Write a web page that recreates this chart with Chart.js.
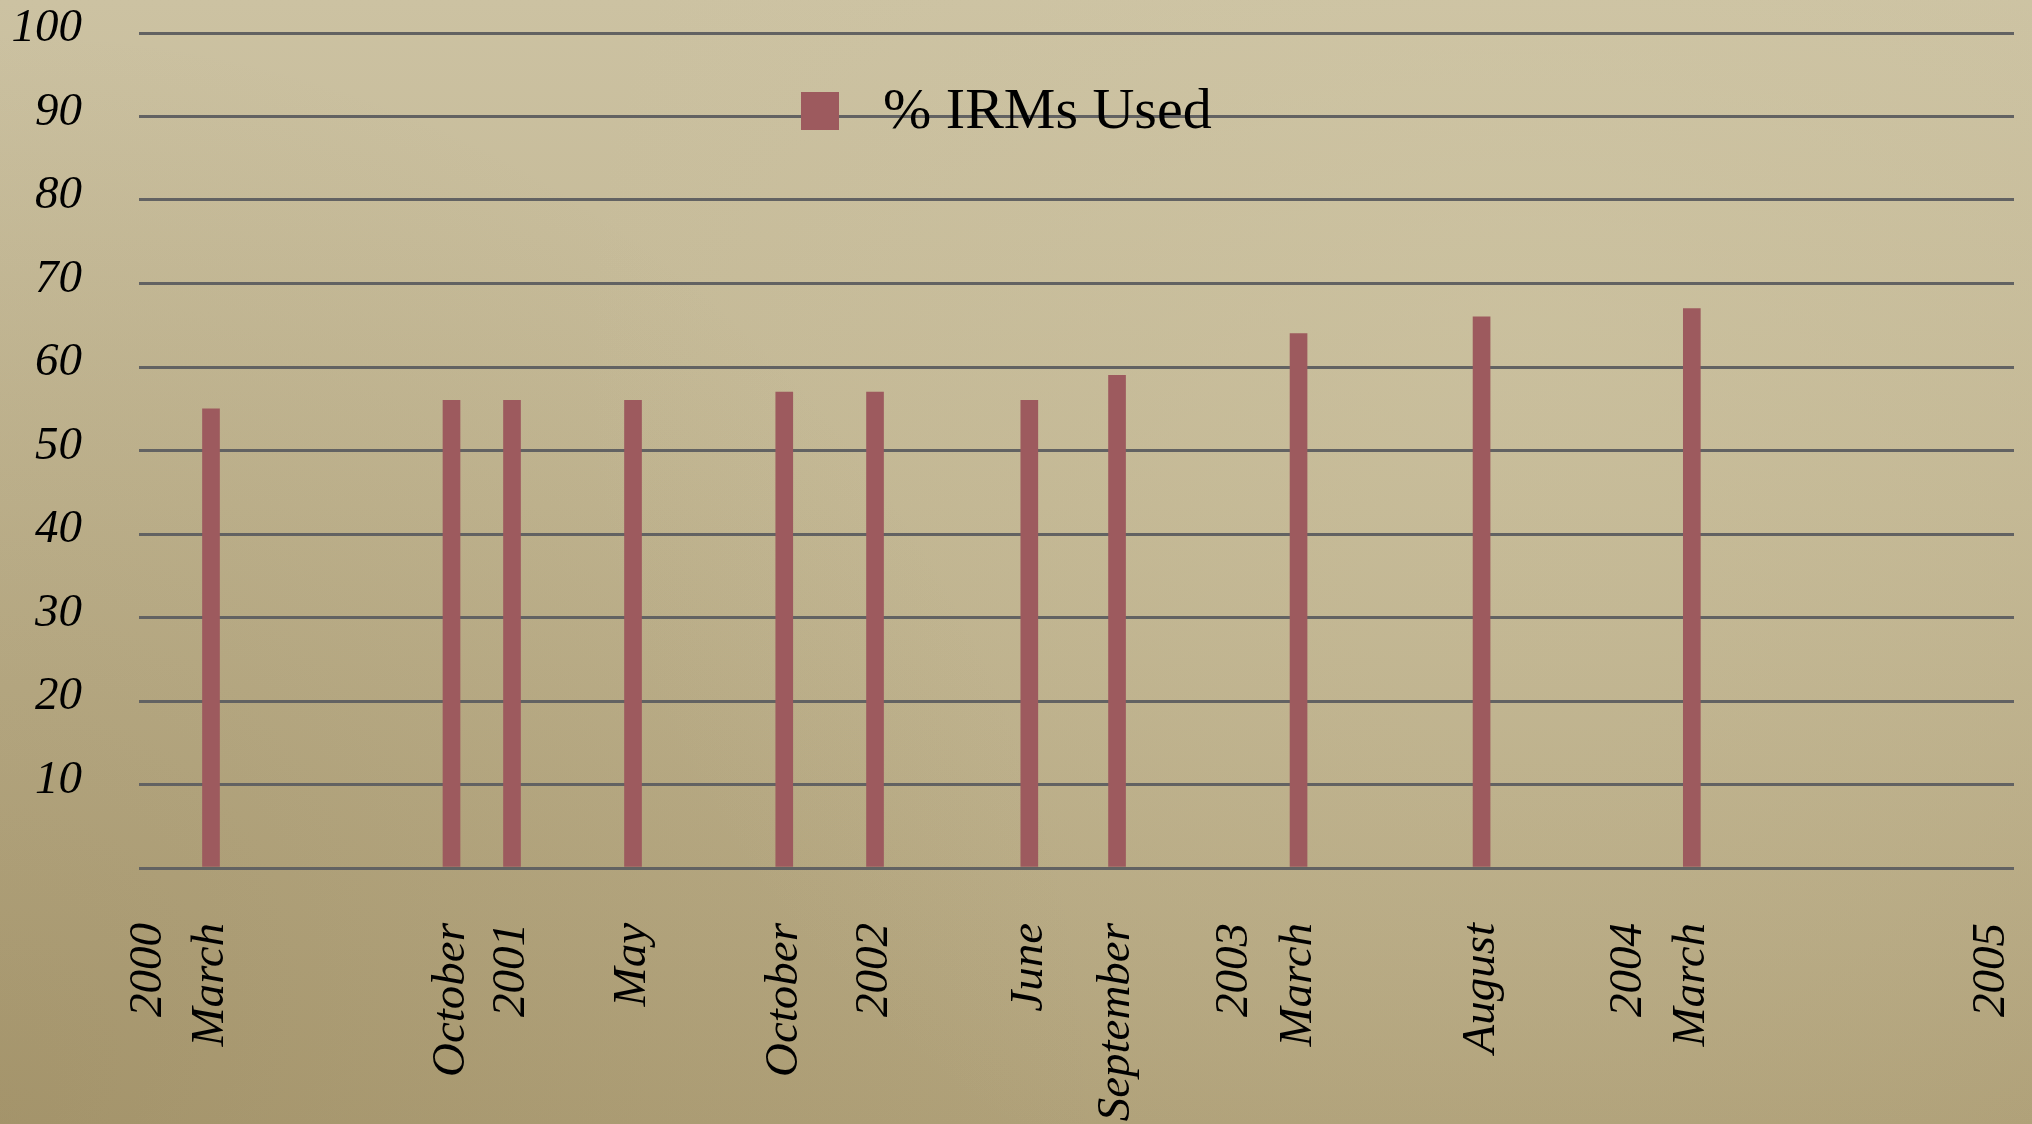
<!DOCTYPE html>
<html>
<head>
<meta charset="utf-8">
<script src="https://cdn.jsdelivr.net/npm/chart.js@4.4.0/dist/chart.umd.min.js"></script>
<style>
html,body{margin:0;padding:0;background:#bfb38f;}
#wrap{width:2032px;height:1124px;position:relative;}
canvas{display:block;}
</style>
</head>
<body>
<div id="wrap"><canvas id="c" width="2032" height="1124"></canvas></div>
<script>
// ---- data ----
const seriesName = '% IRMs Used';
const barLabels = ['March','October','2001','May','October','2002','June','September','March','August','March'];
const barPositions = [2.05, 10, 12, 16, 21, 24, 29.1, 32, 38, 44.05, 51];   // months since Jan 2000 (as placed in picture)
const irmsUsed = [55, 56, 56, 56, 57, 57, 56, 59, 64, 66, 67];
const yearLabels = ['2000', '2003', '2004', '2005'];
const yearPositions = [0, 35.9, 48.9, 60.9];
const yMin = 0, yMax = 100, yStep = 10;
const xMin = -0.33, xMax = 61.65;

const barColor = '#9d5a5e';
const gridColor = '#626262';
const fontFamily = '"Liberation Serif", "Times New Roman", serif';

// tick table built from the arrays above
const xTickTable = barPositions.map((v, i) => ({ value: v, label: barLabels[i] }))
  .concat(yearPositions.map((v, i) => ({ value: v, label: yearLabels[i] })))
  .sort((a, b) => a.value - b.value);
const labelAt = new Map(xTickTable.map(t => [t.value, t.label]));

const backgroundPlugin = {
  id: 'parchment',
  beforeDraw(chart) {
    const { ctx, width, height } = chart;
    ctx.save();
    let g = ctx.createLinearGradient(0, 0, 0, height);
    g.addColorStop(0, '#ccc2a2');
    g.addColorStop(0.45, '#c1b591');
    g.addColorStop(1, '#b0a179');
    ctx.fillStyle = g;
    ctx.fillRect(0, 0, width, height);
    let r = ctx.createRadialGradient(0, height, 0, 0, height, 1100);
    r.addColorStop(0, 'rgba(120,100,55,0.22)');
    r.addColorStop(1, 'rgba(120,100,55,0)');
    ctx.fillStyle = r;
    ctx.fillRect(0, 0, width, height);
    let r2 = ctx.createRadialGradient(width * 0.75, height * 0.3, 0, width * 0.75, height * 0.3, 950);
    r2.addColorStop(0, 'rgba(212,203,170,0.35)');
    r2.addColorStop(1, 'rgba(212,203,170,0)');
    ctx.fillStyle = r2;
    ctx.fillRect(0, 0, width, height);
    ctx.restore();
  }
};

const legendPlugin = {
  id: 'floatingLegend',
  afterDatasetsDraw(chart) {
    const { ctx, chartArea } = chart;
    const ds = chart.data.datasets[0];
    const boxX = chartArea.left + 662, boxY = chartArea.top + 59, box = 38;
    ctx.save();
    ctx.fillStyle = ds.backgroundColor;
    ctx.fillRect(boxX, boxY, box, box);
    ctx.fillStyle = '#000';
    ctx.font = '58px ' + fontFamily;
    ctx.textBaseline = 'alphabetic';
    ctx.textAlign = 'left';
    ctx.fillText(ds.label, boxX + box + 44, boxY + 36);
    ctx.restore();
  }
};

new Chart(document.getElementById('c'), {
  type: 'bar',
  data: {
    datasets: [{
      label: seriesName,
      data: irmsUsed.map((y, i) => ({ x: barPositions[i], y })),
      backgroundColor: barColor,
      borderWidth: 0,
      barThickness: 17
    }]
  },
  options: {
    responsive: false,
    animation: false,
    layout: { padding: { top: 33, right: 18, bottom: 0, left: 0 }, autoPadding: false },
    plugins: { legend: { display: false }, tooltip: { enabled: false } },
    scales: {
      x: {
        type: 'linear',
        offset: false,
        min: xMin,
        max: xMax,
        afterBuildTicks(scale) { scale.ticks = xTickTable.map(t => ({ value: t.value })); },
        afterFit(scale) { scale.height = 256; scale.paddingLeft = 0; scale.paddingRight = 0; },
        grid: { display: false, drawTicks: false, offset: false },
        border: { display: false },
        ticks: {
          autoSkip: false,
          minRotation: 90,
          maxRotation: 90,
          padding: 55,
          color: '#000',
          font: { family: fontFamily, size: 47, style: 'italic' },
          callback: (v) => labelAt.get(v) ?? ''
        }
      },
      y: {
        min: yMin,
        max: yMax,
        afterFit(scale) { scale.width = 139; scale.paddingTop = 0; scale.paddingBottom = 0; },
        grid: { color: gridColor, lineWidth: 3, drawTicks: false },
        border: { display: false },
        ticks: {
          stepSize: yStep,
          padding: 57,
          labelOffset: -4,
          color: '#000',
          font: { family: fontFamily, size: 47, style: 'italic' },
          callback: (v) => (v === 0 ? '' : String(v))
        }
      }
    }
  },
  plugins: [backgroundPlugin, legendPlugin]
});
</script>
</body>
</html>
